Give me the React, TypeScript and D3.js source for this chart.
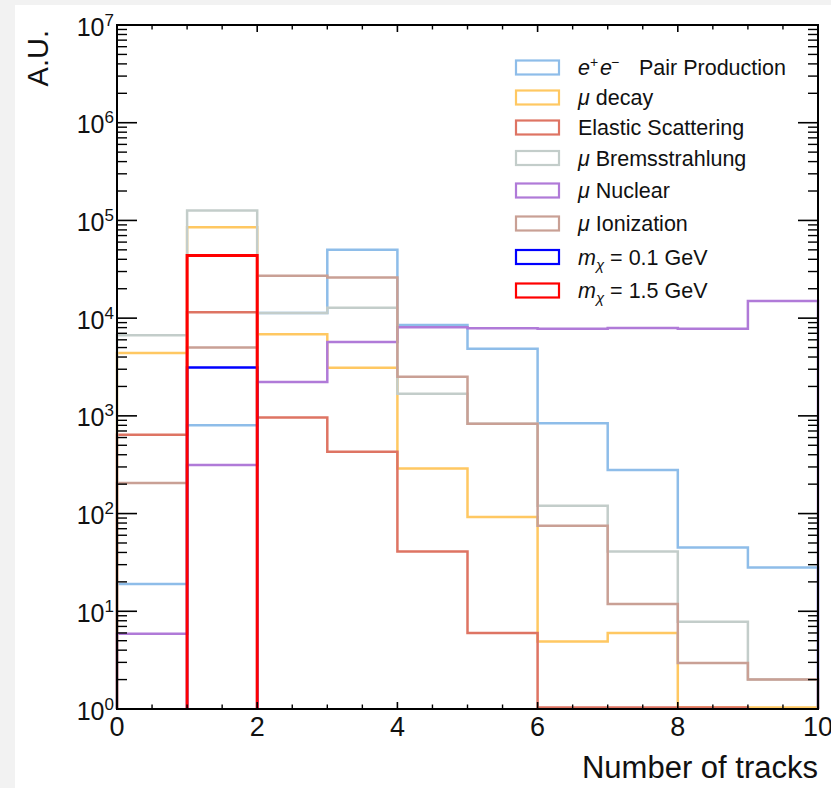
import React from "react";
import * as d3 from "d3";

// ---- data (bin contents for bins [0,1), [1,2), ... [9,10)) ----
// 0.5 = below axis minimum (drawn on the floor), 0 = empty bin (not drawn)
const binEdges = [0, 1, 2, 3, 4, 5, 6, 7, 8, 9, 10];
const pairProduction = [19, 800, 11300, 50000, 8500, 4850, 840, 280, 45, 28];
const muDecay = [4400, 85000, 6850, 3100, 290, 92, 4.9, 6.0, 0.5, 0.5];
const elasticScattering = [640, 11500, 960, 430, 41, 6.0, 0.5, 0.5, 0.5, 0];
const muBrems = [6700, 126000, 11300, 12800, 1680, 830, 120, 41, 7.8, 2];
const muNuclear = [5.9, 314, 2220, 5700, 8070, 7900, 7800, 7950, 7800, 15000];
const muIonization = [206, 5000, 27200, 26000, 2520, 830, 75, 11.9, 2.95, 2];
const signal01 = [0, 3120, 0, 0, 0, 0, 0, 0, 0, 0];
const signal15 = [0, 43700, 0, 0, 0, 0, 0, 0, 0, 0];

const xTicksMajor = [0, 2, 4, 6, 8, 10];
const yDecades = [0, 1, 2, 3, 4, 5, 6, 7];

const series = [
  { key: "pair", values: pairProduction, color: "#8ebde9", width: 2.5 },
  { key: "decay", values: muDecay, color: "#ffc862", width: 2.5 },
  { key: "elastic", values: elasticScattering, color: "#de7463", width: 2.5 },
  { key: "brems", values: muBrems, color: "#c3cdca", width: 2.5 },
  { key: "nuclear", values: muNuclear, color: "#b07ad8", width: 2.5 },
  { key: "ion", values: muIonization, color: "#c9a095", width: 2.5 },
  { key: "s01", values: signal01, color: "#0000ff", width: 2.5 },
  { key: "s15", values: signal15, color: "#ff0000", width: 3 },
];

const W = 831;
const H = 788;
const L = 117;
const R = 818;
const T = 25;
const B = 709;

const x = d3.scaleLinear().domain([0, 10]).range([L, R]);
const y = d3.scaleLog().domain([1, 1e7]).range([B, T]);

function histPath(values: number[]): string {
  const p = d3.path();
  const yb = B;
  const yFloor = B - 1.5;
  p.moveTo(x(binEdges[0]), yb);
  values.forEach((v, i) => {
    const x0 = x(binEdges[i]);
    const x1 = x(binEdges[i + 1]);
    if (v > 0) {
      const yy = v < 1 ? yFloor : y(v);
      p.lineTo(x0, yy);
      p.lineTo(x1, yy);
    } else {
      p.lineTo(x0, yb);
      p.moveTo(x1, yb);
    }
  });
  p.lineTo(x(binEdges[binEdges.length - 1]), yb);
  return p.toString();
}

const FONT = "'Liberation Sans', Arial, Helvetica, sans-serif";

const legendRowsY = [67.5, 97.5, 127.5, 158, 190.5, 223.5, 257, 290.5];

function Legend() {
  const x0 = 515;
  const tx = 578;
  const fs = 21.5;
  const rows: ((yy: number) => React.ReactNode)[] = [
    (yy) => (
      <>
        <tspan x={578} y={yy} fontStyle="italic">e</tspan>
        <tspan x={590} y={yy - 8} fontSize={14}>+</tspan>
        <tspan x={600} y={yy} fontStyle="italic">e</tspan>
        <tspan x={611} y={yy - 8} fontSize={14}>−</tspan>
        <tspan x={639} y={yy}>Pair Production</tspan>
      </>
    ),
    () => (
      <>
        <tspan fontStyle="italic">μ</tspan>
        <tspan> decay</tspan>
      </>
    ),
    () => <>Elastic Scattering</>,
    () => (
      <>
        <tspan fontStyle="italic">μ</tspan>
        <tspan> Bremsstrahlung</tspan>
      </>
    ),
    () => (
      <>
        <tspan fontStyle="italic">μ</tspan>
        <tspan> Nuclear</tspan>
      </>
    ),
    () => (
      <>
        <tspan fontStyle="italic">μ</tspan>
        <tspan> Ionization</tspan>
      </>
    ),
    () => (
      <>
        <tspan fontStyle="italic">m</tspan>
        <tspan fontStyle="italic" fontSize={15} dy={5}>χ</tspan>
        <tspan dy={-5}> = 0.1 GeV</tspan>
      </>
    ),
    () => (
      <>
        <tspan fontStyle="italic">m</tspan>
        <tspan fontStyle="italic" fontSize={15} dy={5}>χ</tspan>
        <tspan dy={-5}> = 1.5 GeV</tspan>
      </>
    ),
  ];
  const order = ["pair", "decay", "elastic", "brems", "nuclear", "ion", "s01", "s15"];
  return (
    <g>
      {order.map((k, i) => {
        const s = series.find((d) => d.key === k)!;
        const cy = legendRowsY[i];
        const ty = cy + 7.5;
        return (
          <g key={k}>
            <rect
              x={x0 + 1}
              y={cy - 7}
              width={43}
              height={14}
              fill="white"
              stroke={s.color}
              strokeWidth={2.2}
            />
            <text x={tx} y={ty} fontSize={fs} fontFamily={FONT} fill="#111">
              {rows[i](ty)}
            </text>
          </g>
        );
      })}
    </g>
  );
}

export default function App() {
  const yMinor: number[] = [];
  for (let d = 0; d < 7; d++) {
    for (let m = 2; m <= 9; m++) yMinor.push(m * Math.pow(10, d));
  }
  const xMinor: number[] = [];
  for (let v = 0.5; v < 10; v += 0.5) {
    if (Math.abs(v % 2) > 1e-6) xMinor.push(v);
  }
  return (
    <svg
      width={W}
      height={H}
      style={{ position: "absolute", left: 0, top: 0 }}
      xmlns="http://www.w3.org/2000/svg"
    >
      <rect x={0} y={0} width={W} height={H} fill="#f2f2f2" />
      <rect x={15} y={5} width={W - 15} height={H - 5} fill="#ffffff" />

      {/* histograms */}
      {series.map((s) => (
        <path
          key={s.key}
          d={histPath(s.values)}
          fill="none"
          stroke={s.color}
          strokeWidth={s.width}
          strokeLinejoin="miter"
        />
      ))}

      {/* frame */}
      <rect x={L} y={T} width={R - L} height={B - T} fill="none" stroke="#000" strokeWidth={2} />

      {/* y ticks */}
      {yDecades.map((d) => {
        const yy = y(Math.pow(10, d));
        return (
          <g key={"yM" + d}>
            <line x1={L} x2={L + 20} y1={yy} y2={yy} stroke="#000" strokeWidth={1.6} />
            <line x1={R} x2={R - 20} y1={yy} y2={yy} stroke="#000" strokeWidth={1.6} />
            <text
              x={114}
              y={yy + 10.5}
              textAnchor="end"
              fontSize={25}
              fontFamily={FONT}
              fill="#111"
            >
              10
              <tspan fontSize={17} dy={-10}>
                {String(d)}
              </tspan>
            </text>
          </g>
        );
      })}
      {yMinor.map((v, i) => {
        const yy = y(v);
        return (
          <g key={"ym" + i}>
            <line x1={L} x2={L + 10} y1={yy} y2={yy} stroke="#000" strokeWidth={1.4} />
            <line x1={R} x2={R - 10} y1={yy} y2={yy} stroke="#000" strokeWidth={1.4} />
          </g>
        );
      })}

      {/* x ticks */}
      {xTicksMajor.map((v) => {
        const xx = x(v);
        return (
          <g key={"xM" + v}>
            <line x1={xx} x2={xx} y1={B} y2={B - 7} stroke="#000" strokeWidth={1.6} />
            <line x1={xx} x2={xx} y1={T} y2={T + 7} stroke="#000" strokeWidth={1.6} />
            <text
              x={xx}
              y={736}
              textAnchor="middle"
              fontSize={27}
              fontFamily={FONT}
              fill="#111"
            >
              {String(v)}
            </text>
          </g>
        );
      })}
      {xMinor.map((v, i) => {
        const xx = x(v);
        return (
          <g key={"xm" + i}>
            <line x1={xx} x2={xx} y1={B} y2={B - 4.5} stroke="#000" strokeWidth={1.4} />
            <line x1={xx} x2={xx} y1={T} y2={T + 4.5} stroke="#000" strokeWidth={1.4} />
          </g>
        );
      })}

      <Legend />

      {/* axis titles */}
      <text
        x={R}
        y={778}
        textAnchor="end"
        fontSize={31}
        fontFamily={FONT}
        fill="#111"
      >
        Number of tracks
      </text>
      <text
        transform={`translate(48,30) rotate(-90)`}
        textAnchor="end"
        fontSize={29}
        fontFamily={FONT}
        fill="#111"
      >
        A.U.
      </text>
    </svg>
  );
}
